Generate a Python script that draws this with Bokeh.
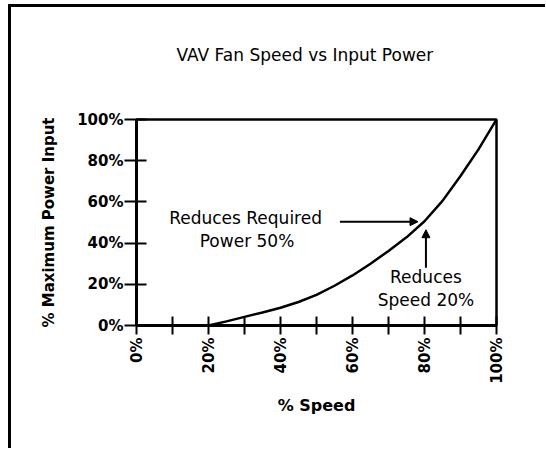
import math
from bokeh.plotting import figure
from bokeh.models import Range1d, FixedTicker, Arrow, NormalHead, ColumnDataSource, Title
from bokeh.core.properties import value
from bokeh.embed import file_html
from bokeh.resources import INLINE

# data
speed = [20, 25, 30, 35, 40, 45, 50, 55, 60, 65, 70, 75, 80, 85, 90, 95, 100]
power = [0, 2.0, 4.2, 6.3, 8.6, 11.4, 14.9, 19.3, 24.3, 30.0, 36.2, 42.8, 50.6, 60.5, 72.6, 85.5, 100]

x_ticks = [0, 20, 40, 60, 80, 100]
x_minor = [10, 30, 50, 70, 90]
x_labels = ["0%", "20%", "40%", "60%", "80%", "100%"]
y_ticks = [0, 20, 40, 60, 80, 100]
y_labels = ["0%", "20%", "40%", "60%", "80%", "100%"]

title_text = "VAV Fan Speed vs Input Power"
note_text = ["Reduces Required", "Power 50%", "Reduces", "Speed 20%"]
note_x = [30.3, 30.7, 80.4, 80.4]
note_y = [52.2, 41.0, 23.4, 12.4]

FONT = "DejaVu Sans"

p = figure(frame_width=360, frame_height=206, min_border_left=125, min_border_top=112,
           min_border_right=49, min_border_bottom=123,
           x_range=Range1d(0, 100), y_range=Range1d(0, 100),
           output_backend="svg", toolbar_location=None)
p.styles = {"border-left": "3px solid black", "border-top": "3px solid black",
            "margin-left": "8px", "margin-top": "4px"}
p.grid.visible = False
p.background_fill_color = "white"
p.border_fill_color = "white"
p.outline_line_color = "black"
p.outline_line_width = 2.5

# spacer between the title and the frame
p.add_layout(Title(text=" ", standoff=28, text_font=FONT, text_font_size="17px"), "above")

# title
p.title.text = title_text
p.title.align = "left"
p.title.vertical_align = "bottom"
p.title.offset = 40
p.title.standoff = 10
p.title.text_font = FONT
p.title.text_font_style = "normal"
p.title.text_font_size = "17px"
p.title.text_color = "black"

# x axis
xa = p.xaxis[0]
xa.ticker = FixedTicker(ticks=x_ticks, minor_ticks=x_minor)
xa.major_label_overrides = {t: l for t, l in zip(x_ticks, x_labels)}
xa.major_label_orientation = math.pi / 2
xa.axis_line_width = 3
xa.major_tick_line_width = 2
xa.minor_tick_line_width = 2
xa.major_tick_in = 9
xa.major_tick_out = 9
xa.minor_tick_in = 9
xa.minor_tick_out = 9
xa.major_label_standoff = 3
xa.major_label_text_font = FONT
xa.major_label_text_font_style = "bold"
xa.major_label_text_font_size = "15px"
xa.major_label_text_color = "black"
xa.axis_label = "% Speed"
xa.axis_label_text_font = FONT
xa.axis_label_text_font_style = "bold"
xa.axis_label_text_font_size = "16px"
xa.axis_label_text_color = "black"
xa.axis_label_standoff = 9

# y axis
ya = p.yaxis[0]
ya.ticker = FixedTicker(ticks=y_ticks, minor_ticks=[])
ya.major_label_overrides = {t: l for t, l in zip(y_ticks, y_labels)}
ya.axis_line_width = 3
ya.major_tick_line_width = 2
ya.major_tick_in = 10
ya.major_tick_out = 12
ya.minor_tick_in = 0
ya.minor_tick_out = 0
ya.major_label_standoff = 1
ya.major_label_text_font = FONT
ya.major_label_text_font_style = "bold"
ya.major_label_text_font_size = "15px"
ya.major_label_text_color = "black"
ya.axis_label = "% Maximum Power Input"
ya.axis_label_text_font = FONT
ya.axis_label_text_font_style = "bold"
ya.axis_label_text_font_size = "15px"
ya.axis_label_text_color = "black"
ya.axis_label_standoff = 16

# curve
p.line(speed, power, line_color="black", line_width=2.5)

# annotation texts
src = ColumnDataSource(dict(x=note_x, y=note_y, t=note_text))
p.text(x="x", y="y", text="t", source=src, text_align="center", text_baseline="middle",
       text_font=value(FONT), text_font_size="17px", text_color="black")

# arrows
p.add_layout(Arrow(end=NormalHead(size=8, fill_color="black", line_color="black"),
                   x_start=56.5, y_start=50.4, x_end=78.2, y_end=50.4,
                   line_color="black", line_width=2))
p.add_layout(Arrow(end=NormalHead(size=8, fill_color="black", line_color="black"),
                   x_start=80.4, y_start=28.0, x_end=80.4, y_end=46.5,
                   line_color="black", line_width=2))

open("out.html", "w").write(file_html(p, INLINE))
